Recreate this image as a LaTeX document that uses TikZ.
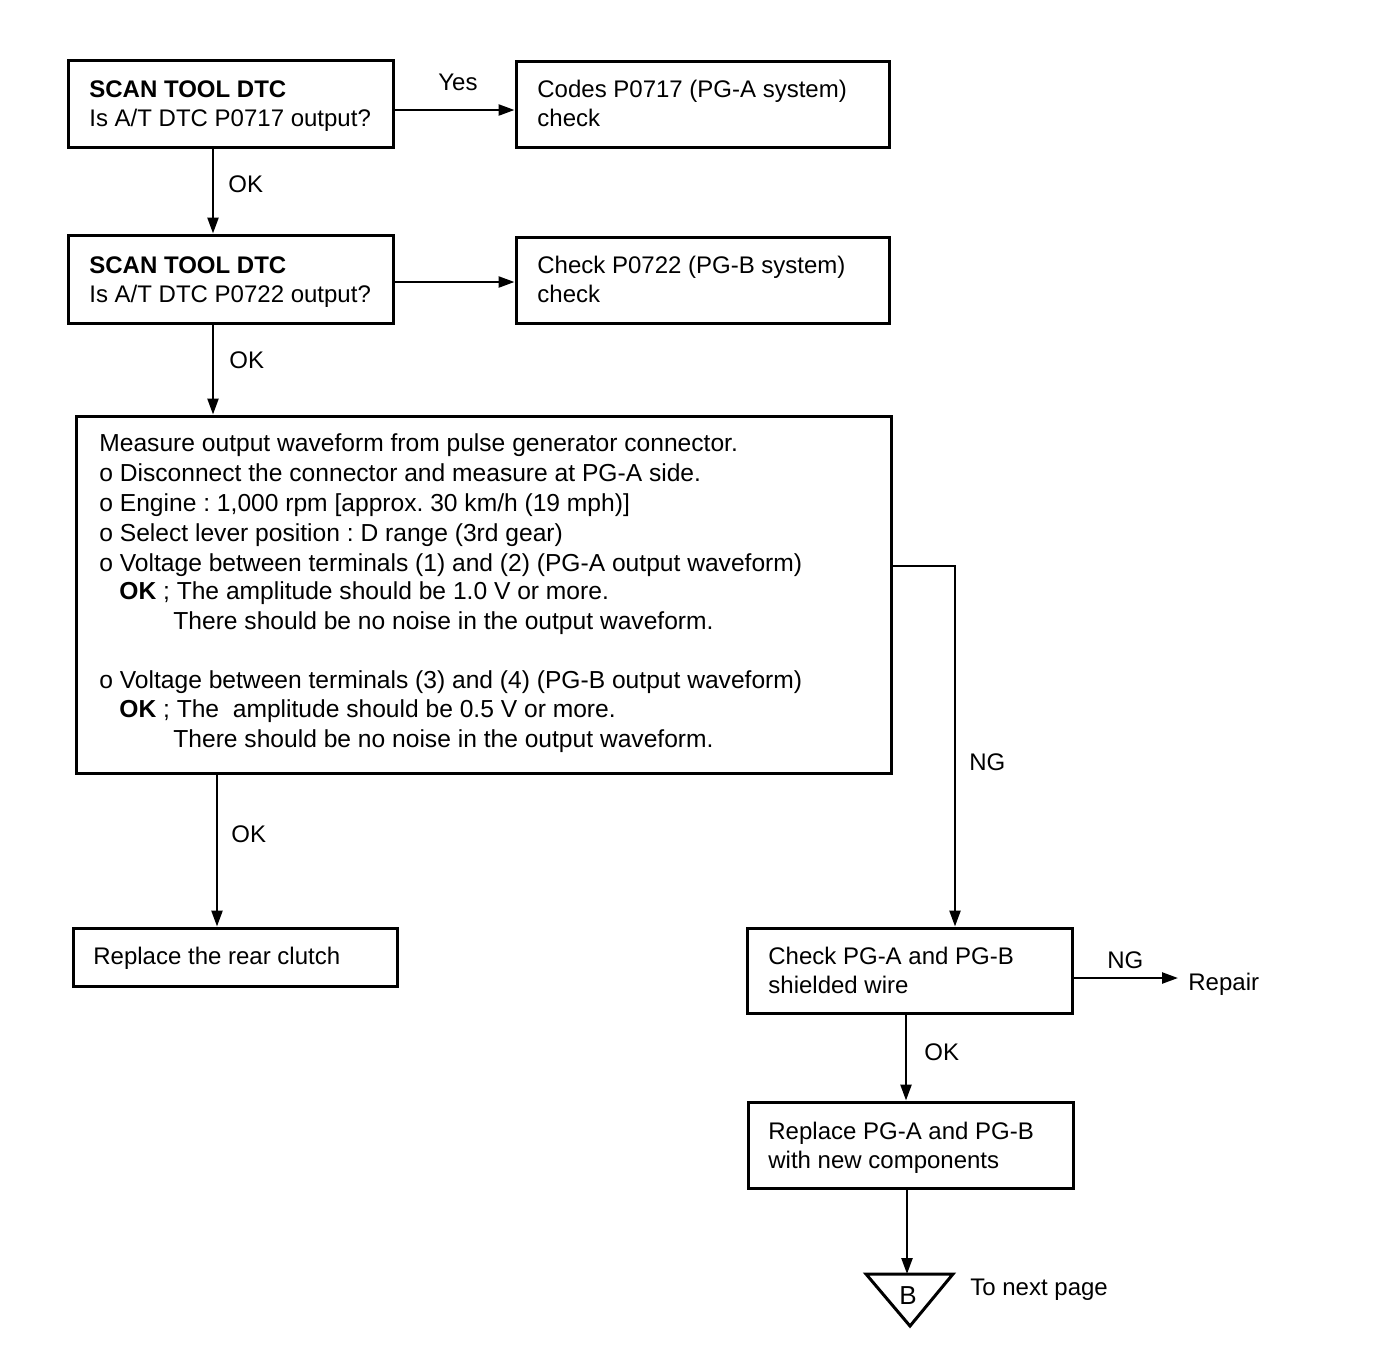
\documentclass[tikz,border=0pt]{standalone}
\usepackage{fontspec}
\setmainfont{Liberation Sans}
\usetikzlibrary{arrows.meta,fit}
\frenchspacing
\begin{document}
\begin{tikzpicture}[x=0.5pt,y=-0.5pt,
  box/.style={draw,line width=1.5pt,inner sep=0pt},
  txt/.style={anchor=base west,inner sep=0pt,font=\fontsize{12}{15}\selectfont},
  mtxt/.style={anchor=base west,inner sep=0pt,font=\fontsize{12.3}{15}\selectfont},
  arr/.style={line width=1.2pt,-{Triangle[length=8pt,width=5.5pt]}},
  ln/.style={line width=1.2pt}]
\useasboundingbox (0,0) rectangle (1376,1350);

% boxes
\node[box,fit={(68,60)(393,147)}] (b1) {};
\node[box,fit={(516,61)(889,147)}] (b2) {};
\node[box,fit={(68,235)(393,323)}] (b3) {};
\node[box,fit={(516,237)(889,323)}] (b4) {};
\node[box,fit={(76,416)(891,773)}] (bb) {};
\node[box,fit={(73,928)(397,986)}] (b5) {};
\node[box,fit={(747,928)(1072,1013)}] (b6) {};
\node[box,fit={(748,1102)(1073,1188)}] (b7) {};

% box texts
\node[txt] (t1a) at (89,97) {\textbf{SCAN TOOL DTC}};
\node[txt] (t1b) at (89,126) {Is A/T DTC P0717 output?};
\node[txt] (t2a) at (537,97) {Codes P0717 (PG-A system)};
\node[txt] (t2b) at (537,126) {check};
\node[txt] (t3a) at (89,273) {\textbf{SCAN TOOL DTC}};
\node[txt] (t3b) at (89,302) {Is A/T DTC P0722 output?};
\node[txt] (t4a) at (537,273) {Check P0722 (PG-B system)};
\node[txt] (t4b) at (537,302) {check};

\node[mtxt] (m1) at (99,451) {Measure output waveform from pulse generator connector.};
\node[mtxt] (m2) at (99,481) {o Disconnect the connector and measure at PG-A side.};
\node[mtxt] (m3) at (99,511) {o Engine : 1,000 rpm [approx. 30 km/h (19 mph)]};
\node[mtxt] (m4) at (99,541) {o Select lever position : D range (3rd gear)};
\node[mtxt] (m5) at (99,571) {o Voltage between terminals (1) and (2) (PG-A output waveform)};
\node[mtxt] (m6) at (119,599) {\textbf{OK} ; The amplitude should be 1.0 V or more.};
\node[mtxt] (m7) at (173,629) {There should be no noise in the output waveform.};
\node[mtxt] (m8) at (99,688) {o Voltage between terminals (3) and (4) (PG-B output waveform)};
\node[mtxt] (m9) at (119,717) {\textbf{OK} ; The\ \ amplitude should be 0.5 V or more.};
\node[mtxt] (m10) at (173,747) {There should be no noise in the output waveform.};

\node[txt] (t5) at (93,964) {Replace the rear clutch};
\node[txt] (t6a) at (768,964) {Check PG-A and PG-B};
\node[txt] (t6b) at (768,993) {shielded wire};
\node[txt] (t7a) at (768,1139) {Replace PG-A and PG-B};
\node[txt] (t7b) at (768,1168) {with new components};

% connector labels
\node[txt] (lyes) at (438,90) {Yes};
\node[txt] (lok1) at (228,192) {OK};
\node[txt] (lok2) at (229,368) {OK};
\node[txt] (lok3) at (231,842) {OK};
\node[txt] (lng1) at (969,770) {NG};
\node[txt] (lng2) at (1107,968) {NG};
\node[txt] (lrep) at (1188,990) {Repair};
\node[txt] (lok4) at (924,1060) {OK};
\node[txt] (lnext) at (970,1295) {To next page};

% off-page connector
\draw[line width=1.5pt,line join=miter] (866,1274) -- (953,1274) -- (910,1326) -- cycle;
\node[txt,anchor=center,font=\fontsize{13}{15}\selectfont] (tb) at (908,1296) {B};

% coordinates for connector ends
\coordinate (y1) at (0,110);
\coordinate (y2) at (0,282);
\coordinate (xa) at (213,0);
\coordinate (xb) at (217,0);
\coordinate (ngc) at (955,566);
\coordinate (yr) at (0,978);
\coordinate (rp) at (1178,978);
\coordinate (xc) at (906,0);
\coordinate (tri) at (907,1274);

% connectors
\draw[arr] (b1.east |- y1) -- (b2.west |- y1);
\draw[arr] (b1.south -| xa) -- (b3.north -| xa);
\draw[arr] (b3.east |- y2) -- (b4.west |- y2);
\draw[arr] (b3.south -| xa) -- (bb.north -| xa);
\draw[arr] (bb.south -| xb) -- (b5.north -| xb);
\draw[arr] (bb.east |- ngc) -- (ngc) -- (b6.north -| ngc);
\draw[arr] (b6.east |- yr) -- (rp);
\draw[arr] (b6.south -| xc) -- (b7.north -| xc);
\draw[arr] (b7.south -| tri) -- (tri);
\end{tikzpicture}
\end{document}
